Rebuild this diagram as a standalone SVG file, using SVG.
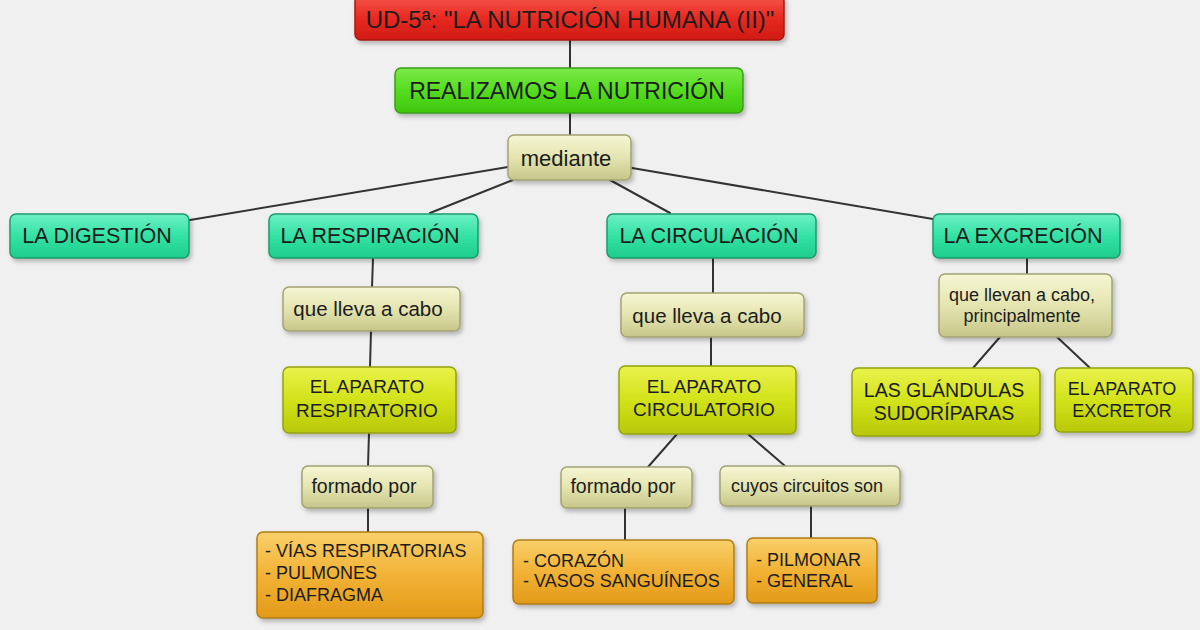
<svg xmlns="http://www.w3.org/2000/svg" width="1200" height="630" viewBox="0 0 1200 630">
<defs>
<linearGradient id="gRed" x1="0" y1="0" x2="0" y2="1"><stop offset="0" stop-color="#f5574c"/><stop offset="0.5" stop-color="#e82a22"/><stop offset="1" stop-color="#d01a14"/></linearGradient>
<linearGradient id="gGreen" x1="0" y1="0" x2="0" y2="1"><stop offset="0" stop-color="#7bea48"/><stop offset="0.5" stop-color="#55dc20"/><stop offset="1" stop-color="#3fc80e"/></linearGradient>
<linearGradient id="gTeal" x1="0" y1="0" x2="0" y2="1"><stop offset="0" stop-color="#6ef0c6"/><stop offset="0.5" stop-color="#33e2a4"/><stop offset="1" stop-color="#1ecd8c"/></linearGradient>
<linearGradient id="gBeige" x1="0" y1="0" x2="0" y2="1"><stop offset="0" stop-color="#f6f6d4"/><stop offset="0.5" stop-color="#e4e4b0"/><stop offset="1" stop-color="#c6c68a"/></linearGradient>
<linearGradient id="gLime" x1="0" y1="0" x2="0" y2="1"><stop offset="0" stop-color="#eaf24c"/><stop offset="0.5" stop-color="#d2e21a"/><stop offset="1" stop-color="#b8c806"/></linearGradient>
<linearGradient id="gOrange" x1="0" y1="0" x2="0" y2="1"><stop offset="0" stop-color="#f9d06a"/><stop offset="0.5" stop-color="#f1b236"/><stop offset="1" stop-color="#e39a18"/></linearGradient>
<filter id="sh" x="-10%" y="-20%" width="125%" height="150%"><feDropShadow dx="2" dy="3" stdDeviation="2" flood-color="#000" flood-opacity="0.25"/></filter>
</defs>
<style>
.n{filter:url(#sh);stroke-width:1.5}
.red{fill:url(#gRed);stroke:#a8180f}
.green{fill:url(#gGreen);stroke:#3a9e18}
.teal{fill:url(#gTeal);stroke:#1c9c6c}
.beige{fill:url(#gBeige);stroke:#a3a374}
.lime{fill:url(#gLime);stroke:#93a310}
.orange{fill:url(#gOrange);stroke:#b07c18}
text{font-family:"Liberation Sans",Arial,sans-serif;fill:#1c1c1c}
.c{text-anchor:middle}
.conn line{stroke:#333;stroke-width:2;stroke-linecap:round}
</style>
<rect width="1200" height="630" fill="#f0f0f0"/>
<g id="connectors" class="conn">
<line x1="570" y1="40" x2="570" y2="68"/>
<line x1="570" y1="113" x2="570" y2="135"/>
<line x1="508" y1="167" x2="190" y2="220" stroke-width="2.2"/>
<line x1="513" y1="180" x2="430" y2="213"/>
<line x1="610" y1="180" x2="670" y2="213"/>
<line x1="632" y1="168" x2="933" y2="219" stroke-width="2.2"/>
<line x1="373" y1="258" x2="372" y2="287"/>
<line x1="371" y1="331" x2="370" y2="367"/>
<line x1="369" y1="433" x2="368" y2="466"/>
<line x1="368" y1="508" x2="368" y2="532"/>
<line x1="713" y1="258" x2="713" y2="293"/>
<line x1="711" y1="337" x2="711" y2="366"/>
<line x1="677" y1="434" x2="648" y2="467"/>
<line x1="748" y1="434" x2="785" y2="466"/>
<line x1="625" y1="508" x2="625" y2="540"/>
<line x1="811" y1="506" x2="811" y2="538"/>
<line x1="1027" y1="258" x2="1027" y2="274"/>
<line x1="1000" y1="337" x2="973" y2="368"/>
<line x1="1057" y1="337" x2="1090" y2="368"/>
</g>
<g id="title"><rect class="n red" x="355" y="-5" width="429" height="45" rx="6"/><text class="c" x="570" y="28" font-size="24">UD-5ª: "LA NUTRICIÓN HUMANA (II)"</text></g>
<g id="realizamos"><rect class="n green" x="395" y="68" width="348" height="45" rx="6"/><text class="c" x="567" y="99" font-size="23">REALIZAMOS LA NUTRICIÓN</text></g>
<g id="mediante"><rect class="n beige" x="508" y="135" width="123" height="45" rx="6"/><text class="c" x="566" y="166" font-size="22">mediante</text></g>
<g id="digestion"><rect class="n teal" x="10" y="214" width="179" height="44" rx="6"/><text class="c" x="97" y="243" font-size="21.5">LA DIGESTIÓN</text></g>
<g id="respiracion"><rect class="n teal" x="269" y="214" width="209" height="44" rx="6"/><text class="c" x="370" y="243" font-size="21.5">LA RESPIRACIÓN</text></g>
<g id="circulacion"><rect class="n teal" x="607" y="214" width="209" height="44" rx="6"/><text class="c" x="709" y="243" font-size="21.5">LA CIRCULACIÓN</text></g>
<g id="excrecion"><rect class="n teal" x="933" y="214" width="187" height="44" rx="6"/><text class="c" x="1023" y="243" font-size="21.5">LA EXCRECIÓN</text></g>
<g id="resp-lleva"><rect class="n beige" x="283" y="287" width="177" height="44" rx="6"/><text class="c" x="368" y="316" font-size="20.5">que lleva a cabo</text></g>
<g id="resp-aparato"><rect class="n lime" x="283" y="367" width="173" height="66" rx="6"/><text class="c" x="367" y="393" font-size="19">EL APARATO</text><text class="c" x="367" y="417" font-size="19">RESPIRATORIO</text></g>
<g id="resp-formado"><rect class="n beige" x="302" y="466" width="131" height="42" rx="6"/><text class="c" x="364" y="493" font-size="19.5">formado por</text></g>
<g id="resp-organos"><rect class="n orange" x="257" y="532" width="226" height="86" rx="6"/><text x="265" y="557" font-size="18">- VÍAS RESPIRATORIAS</text><text x="265" y="579" font-size="18">- PULMONES</text><text x="265" y="601" font-size="18">- DIAFRAGMA</text></g>
<g id="circ-lleva"><rect class="n beige" x="621" y="293" width="183" height="44" rx="6"/><text class="c" x="707" y="323" font-size="20.5">que lleva a cabo</text></g>
<g id="circ-aparato"><rect class="n lime" x="619" y="366" width="177" height="68" rx="6"/><text class="c" x="704" y="393" font-size="19">EL APARATO</text><text class="c" x="704" y="416" font-size="19">CIRCULATORIO</text></g>
<g id="circ-formado"><rect class="n beige" x="561" y="467" width="131" height="41" rx="6"/><text class="c" x="623" y="493" font-size="19.5">formado por</text></g>
<g id="circ-cuyos"><rect class="n beige" x="720" y="466" width="180" height="40" rx="6"/><text class="c" x="807" y="492" font-size="18">cuyos circuitos son</text></g>
<g id="circ-organos"><rect class="n orange" x="513" y="540" width="221" height="64" rx="6"/><text x="523" y="567" font-size="18">- CORAZÓN</text><text x="523" y="587" font-size="18">- VASOS SANGUÍNEOS</text></g>
<g id="circ-circuitos"><rect class="n orange" x="747" y="538" width="130" height="65" rx="6"/><text x="756" y="566" font-size="18">- PILMONAR</text><text x="756" y="587" font-size="18">- GENERAL</text></g>
<g id="excr-llevan"><rect class="n beige" x="939" y="274" width="173" height="63" rx="6"/><text class="c" x="1022" y="301" font-size="18">que llevan a cabo,</text><text class="c" x="1022" y="322" font-size="18">principalmente</text></g>
<g id="excr-glandulas"><rect class="n lime" x="852" y="368" width="188" height="68" rx="6"/><text class="c" x="944" y="397" font-size="19.5">LAS GLÁNDULAS</text><text class="c" x="944" y="420" font-size="19.5">SUDORÍPARAS</text></g>
<g id="excr-aparato"><rect class="n lime" x="1055" y="368" width="138" height="64" rx="6"/><text class="c" x="1122" y="395" font-size="18">EL APARATO</text><text class="c" x="1122" y="417" font-size="18">EXCRETOR</text></g>
</svg>
